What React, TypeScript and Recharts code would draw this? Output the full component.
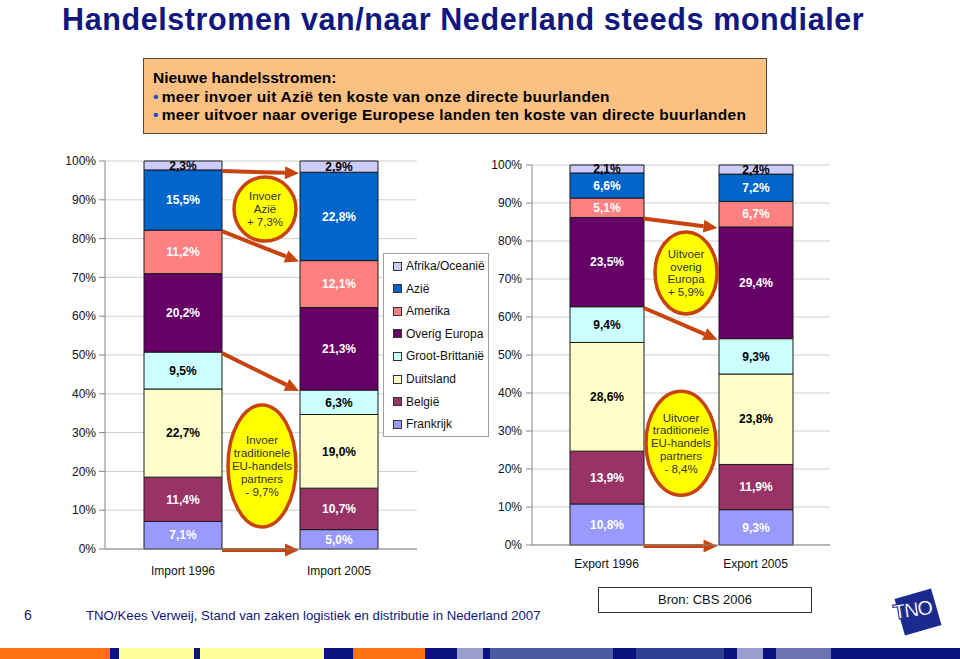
import React from "react";
import {
  Bar,
  BarChart,
  CartesianGrid,
  LabelList,
  ReferenceLine,
  XAxis,
  YAxis,
} from "recharts";

// stack order, bottom to top
const SERIES = [
  "Frankrijk",
  "België",
  "Duitsland",
  "Groot-Brittanië",
  "Overig Europa",
  "Amerika",
  "Azië",
  "Afrika/Oceanië",
];
const COLORS = ["#9999ff", "#993366", "#ffffcc", "#ccffff", "#660066", "#ff8080", "#0066cc", "#ccccff"];
const LABEL_COLORS = ["#ffffff", "#ffffff", "#000000", "#000000", "#ffffff", "#ffffff", "#ffffff", "#000000"];

const IMPORT_CATS = ["Import 1996", "Import 2005"];
const IMPORT_1996 = [7.1, 11.4, 22.7, 9.5, 20.2, 11.2, 15.5, 2.3];
const IMPORT_2005 = [5.0, 10.7, 19.0, 6.3, 21.3, 12.1, 22.8, 2.9];

const EXPORT_CATS = ["Export 1996", "Export 2005"];
const EXPORT_1996 = [10.8, 13.9, 28.6, 9.4, 23.5, 5.1, 6.6, 2.1];
const EXPORT_2005 = [9.3, 11.9, 23.8, 9.3, 29.4, 6.7, 7.2, 2.4];

const Y_TICKS = [0, 10, 20, 30, 40, 50, 60, 70, 80, 90, 100];

// arrows: number of stacked segments below the boundary they point at
const IMPORT_ARROWS = [7, 6, 4, 0];
const EXPORT_ARROWS = [5, 4, 0];

const IMPORT_NOTES = [
  { y: 87.6, dx: 4, rx: 31, ry: 32, lines: ["Invoer", "Azië", "+ 7,3%"] },
  { y: 21.4, dx: 1, rx: 34, ry: 61, lines: ["Invoer", "traditionele", "EU-handels", "partners", "- 9,7%"] },
];
const EXPORT_NOTES = [
  { y: 71.6, dx: 5, rx: 31, ry: 41, lines: ["Uitvoer", "overig", "Europa", "+ 5,9%"] },
  { y: 26.8, dx: 0, rx: 35, ry: 52, lines: ["Uitvoer", "traditionele", "EU-handels", "partners", "- 8,4%"] },
];

const STRIPE = [
  [0, 110, "#ff7212"], [110, 119, "#0c1280"], [119, 194, "#ffff99"], [194, 200, "#0c1280"],
  [200, 324, "#ffff99"], [324, 353, "#0c1280"], [353, 425, "#ff7212"], [425, 457, "#0c1280"],
  [457, 483, "#9a9fce"], [483, 490, "#0c1280"], [490, 613, "#4d5a9e"], [613, 636, "#0c1280"],
  [636, 724, "#2f4193"], [724, 737, "#0c1280"], [737, 763, "#9a9fce"], [763, 776, "#0c1280"],
  [776, 831, "#6b74b0"], [831, 960, "#0c1280"],
] as const;

const FONT = '"Liberation Sans", Arial, sans-serif';
const ARROW = "#c8440f";
const AXIS = "#868686";
const GRID = "#cfcfcf";
const NAVY = "#10177e";

const fmt = (v: any) => Number(v).toFixed(1).replace(".", ",") + "%";

function buildRows(cats: string[], values: number[][]) {
  return cats.map((name, c) => {
    const row: Record<string, any> = { name };
    values[c].forEach((v, i) => (row["k" + i] = v));
    return row;
  });
}

function boundary(vals: number[], n: number) {
  const total = vals.reduce((a, b) => a + b, 0);
  return vals.slice(0, n).reduce((a, b) => a + b, 0) / total;
}

const arrowShape = (half: number) => (p: any) => {
  const sx = p.x1 + half;
  const ex = p.x2 - half - 1;
  const sy = p.y1 + 1;
  const ey = p.y2 + 1;
  const ang = Math.atan2(ey - sy, ex - sx);
  const L = 14;
  const W = 6.5;
  const bx = ex - L * Math.cos(ang);
  const by = ey - L * Math.sin(ang);
  const px = -Math.sin(ang) * W;
  const py = Math.cos(ang) * W;
  return (
    <g>
      <line x1={sx} y1={sy} x2={bx} y2={by} stroke={ARROW} strokeWidth={4} />
      <polygon points={`${ex},${ey} ${bx + px},${by + py} ${bx - px},${by - py}`} fill={ARROW} />
    </g>
  );
};

const noteShape = (note: any) => (p: any) => {
  const cx = (p.x1 + p.x2) / 2 + note.dx;
  const cy = p.y1;
  const lh = 12.8;
  const y0 = cy - ((note.lines.length - 1) * lh) / 2;
  return (
    <g>
      <ellipse cx={cx} cy={cy} rx={note.rx} ry={note.ry} fill="#ffff00" stroke={ARROW} strokeWidth={3.5} />
      {note.lines.map((t: string, i: number) => (
        <text
          key={i}
          x={cx}
          y={y0 + i * lh}
          textAnchor="middle"
          dominantBaseline="central"
          fontSize={11.5}
          fill="#333333"
        >
          {t}
        </text>
      ))}
    </g>
  );
};

interface TradeChartProps {
  cats: string[];
  values: number[][];
  width: number;
  height: number;
  margin: { top: number; right: number; bottom: number; left: number };
  barSize: number;
  xTickMargin: number;
  yTickMargin: number;
  arrows: number[];
  notes: typeof IMPORT_NOTES;
}

function TradeChart(props: TradeChartProps) {
  const { cats, values, barSize } = props;
  const data = buildRows(cats, values);
  return (
    <BarChart
      width={props.width}
      height={props.height}
      data={data}
      margin={props.margin}
      stackOffset="expand"
      barSize={barSize}
    >
      <CartesianGrid stroke={GRID} vertical={false} />
      <XAxis
        dataKey="name"
        height={30}
        tickLine={false}
        tickMargin={props.xTickMargin}
        axisLine={{ stroke: AXIS }}
        tick={{ fill: "#111", fontSize: 12 }}
      />
      <XAxis
        xAxisId="top"
        orientation="top"
        dataKey="name"
        height={0}
        tick={false}
        tickLine={false}
        axisLine={{ stroke: AXIS }}
      />
      <YAxis
        type="number"
        width={60}
        domain={[0, 1]}
        ticks={Y_TICKS.map((t) => t / 100)}
        tickFormatter={(v) => Math.round(v * 100) + "%"}
        tickMargin={props.yTickMargin}
        tickLine={{ stroke: AXIS }}
        axisLine={{ stroke: AXIS }}
        tick={{ fill: "#111", fontSize: 12 }}
      />
      <YAxis
        yAxisId="edge"
        orientation="right"
        type="number"
        width={0}
        domain={[0, 1]}
        tick={false}
        tickLine={false}
        axisLine={{ stroke: AXIS }}
      />
      {SERIES.map((s, i) => (
        <Bar
          key={s}
          dataKey={"k" + i}
          name={s}
          stackId="a"
          fill={COLORS[i]}
          stroke="#1a1a1a"
          strokeWidth={1}
          isAnimationActive={false}
        >
          <LabelList
            dataKey={"k" + i}
            position="center"
            formatter={fmt}
            fill={LABEL_COLORS[i]}
            fontSize={12}
            fontWeight="bold"
          />
        </Bar>
      ))}
      {props.arrows.map((n, i) => (
        <ReferenceLine
          key={"a" + i}
          segment={[
            { x: cats[0], y: boundary(values[0], n) },
            { x: cats[1], y: boundary(values[1], n) },
          ]}
          shape={arrowShape(barSize / 2)}
        />
      ))}
      {props.notes.map((note, i) => (
        <ReferenceLine
          key={"n" + i}
          segment={[
            { x: cats[0], y: note.y / 100 },
            { x: cats[1], y: note.y / 100 },
          ]}
          shape={noteShape(note)}
        />
      ))}
    </BarChart>
  );
}

function Legend() {
  const items = SERIES.map((s, i) => ({ s, c: COLORS[i] })).reverse();
  return (
    <div
      style={{
        position: "absolute",
        left: 383,
        top: 253,
        width: 106,
        height: 184,
        border: "1px solid #a0a0a0",
        background: "#fff",
        boxSizing: "border-box",
      }}
    >
      {items.map((it, i) => (
        <div
          key={it.s}
          style={{
            position: "absolute",
            left: 9,
            top: 3 + i * 22.6,
            height: 18,
            display: "flex",
            alignItems: "center",
            fontSize: 12,
            color: "#111",
            whiteSpace: "nowrap",
          }}
        >
          <span
            style={{
              width: 7,
              height: 7,
              background: it.c,
              border: "1px solid #333",
              marginRight: 4,
              display: "inline-block",
            }}
          />
          {it.s}
        </div>
      ))}
    </div>
  );
}

export default function App() {
  return (
    <div
      style={{
        position: "absolute",
        left: 0,
        top: 0,
        width: 960,
        height: 659,
        overflow: "hidden",
        background: "#fff",
        fontFamily: FONT,
      }}
    >
      <div
        style={{
          position: "absolute",
          left: 62,
          top: 3,
          fontSize: 30.5,
          lineHeight: "32px",
          letterSpacing: 0.6,
          fontWeight: "bold",
          color: NAVY,
          whiteSpace: "nowrap",
        }}
      >
        Handelstromen van/naar Nederland steeds mondialer
      </div>

      <div
        style={{
          position: "absolute",
          left: 143,
          top: 58,
          width: 624,
          height: 76,
          boxSizing: "border-box",
          border: "1.5px solid #4a4a4a",
          background: "#fcc182",
          padding: "10px 0 0 9px",
          fontSize: 15.5,
          lineHeight: "18.5px",
          fontWeight: "bold",
          color: "#000",
          whiteSpace: "nowrap",
        }}
      >
        <div>Nieuwe handelsstromen:</div>
        <div style={{ letterSpacing: 0.25 }}>
          <span style={{ color: "#1a4fd0", marginRight: 3 }}>•</span>meer invoer uit Azië ten koste van onze directe buurlanden
        </div>
        <div style={{ letterSpacing: 0.25 }}>
          <span style={{ color: "#1a4fd0", marginRight: 3 }}>•</span>meer uitvoer naar overige Europese landen ten koste van directe buurlanden
        </div>
      </div>

      <div style={{ position: "absolute", left: 0, top: 140 }}>
        <TradeChart
          cats={IMPORT_CATS}
          values={[IMPORT_1996, IMPORT_2005]}
          width={500}
          height={460}
          margin={{ top: 21, right: 83, bottom: 21, left: 45 }}
          barSize={78}
          xTickMargin={11}
          yTickMargin={3}
          arrows={IMPORT_ARROWS}
          notes={IMPORT_NOTES}
        />
      </div>

      <div style={{ position: "absolute", left: 440, top: 140 }}>
        <TradeChart
          cats={EXPORT_CATS}
          values={[EXPORT_1996, EXPORT_2005]}
          width={420}
          height={460}
          margin={{ top: 25, right: 30, bottom: 25, left: 32 }}
          barSize={74}
          xTickMargin={8}
          yTickMargin={4}
          arrows={EXPORT_ARROWS}
          notes={EXPORT_NOTES}
        />
      </div>

      <Legend />

      <div
        style={{
          position: "absolute",
          left: 598,
          top: 587,
          width: 214,
          height: 26,
          boxSizing: "border-box",
          border: "1px solid #333",
          background: "#fff",
          fontSize: 13,
          lineHeight: "24px",
          textAlign: "center",
          color: "#111",
        }}
      >
        Bron: CBS 2006
      </div>

      <div style={{ position: "absolute", left: 24, top: 607, fontSize: 14, color: NAVY }}>6</div>
      <div
        style={{
          position: "absolute",
          left: 86,
          top: 608,
          fontSize: 13.2,
          color: NAVY,
          whiteSpace: "nowrap",
        }}
      >
        TNO/Kees Verweij, Stand van zaken logistiek en distributie in Nederland 2007
      </div>

      <div
        style={{
          position: "absolute",
          left: 899,
          top: 593,
          width: 38,
          height: 38,
          background: "#1b2a8e",
          transform: "rotate(-16deg)",
        }}
      />
      <div
        style={{
          position: "absolute",
          left: 893,
          top: 598,
          fontSize: 21,
          fontWeight: "bold",
          color: "#fff",
          letterSpacing: -2,
          WebkitTextStroke: "1px #1b2a8e",
          transform: "rotate(-8deg)",
        }}
      >
        TNO
      </div>

      {STRIPE.map(([a, b, c], i) => (
        <div
          key={i}
          style={{ position: "absolute", left: a, top: 648, width: b - a, height: 11, background: c }}
        />
      ))}
    </div>
  );
}
